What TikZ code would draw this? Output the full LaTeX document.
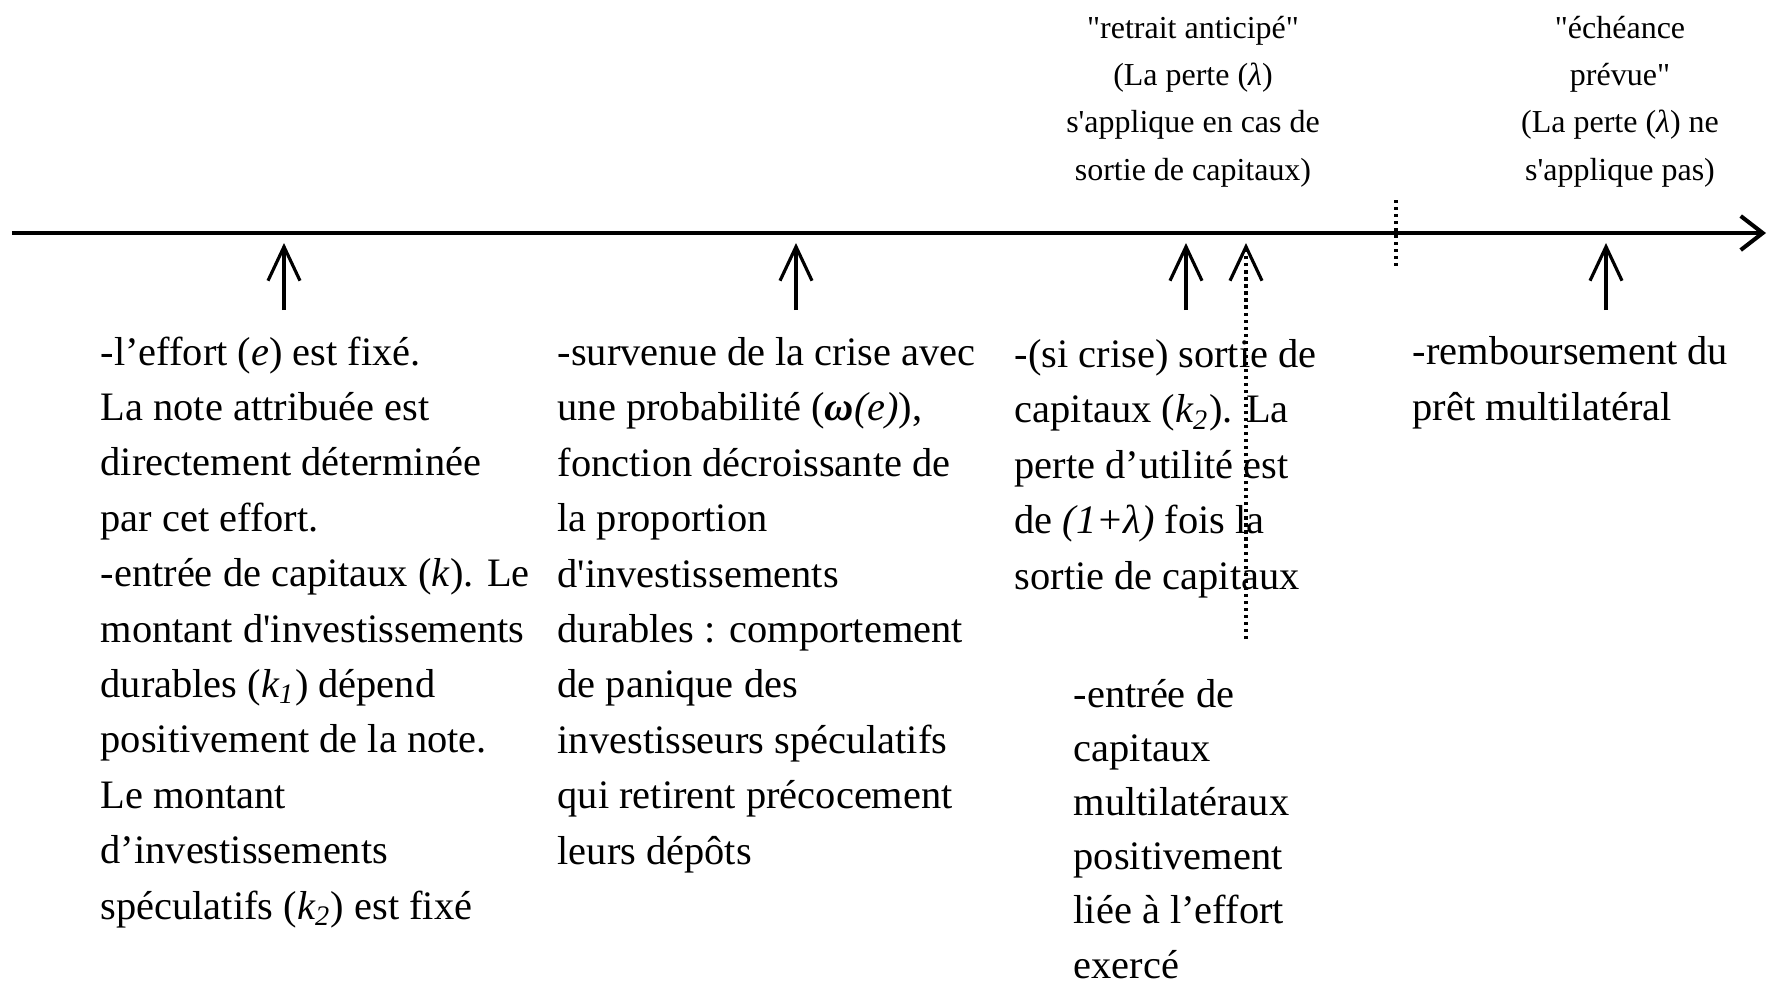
\documentclass[tikz,border=0pt]{standalone}
\usepackage{fontspec}
\setmainfont{Liberation Serif}
\usetikzlibrary{arrows.meta}

\begin{document}
\begin{tikzpicture}[
axis/.style={line width=1.15pt,-{Straight Barb[length=2.2mm,width=3.4mm]}},
up/.style={line width=0.9pt,-{Straight Barb[length=3.4mm,width=3.2mm]}},
dotline/.style={line width=0.9pt,dash pattern=on 0.9pt off 1.1pt},
event/.style={anchor=base west,align=left,inner sep=0pt,font=\fontsize{11.5}{15.76}\selectfont},
phase/.style={anchor=base,align=center,inner sep=0pt,font=\fontsize{9.1}{13.45}\selectfont}]
\useasboundingbox (0,0) rectangle (17.67,-9.86);

%%time axis
\coordinate (start) at (0.12,-2.33);
\coordinate (end) at (17.66,-2.33);
\draw[axis] (start) -- (end);

%%events on the axis
\foreach \x/\n in {2.84/1,7.96/2,11.86/3,16.06/5}
{
\coordinate (b\n) at (\x,-3.10);
\coordinate (t\n) at (\x,-2.43);
\draw[up] (b\n) -- (t\n);
}
\coordinate (b4) at (12.46,-6.39);
\coordinate (t4) at (12.46,-2.43);
\draw[up,dotline] (b4) -- (t4);
%%separation of the two phases
\coordinate (s1) at (13.96,-2.00);
\coordinate (s2) at (13.96,-2.69);
\draw[dotline] (s1) -- (s2);

%%phases (nodes sit on the baseline of their last line)
\node[phase] (retrait) at (11.93,-1.80) {\textquotedbl retrait anticipé\textquotedbl\\(La perte (\textit{λ})\\s\textquotesingle applique en cas de\\sortie de capitaux)};
\node[phase] (echeance) at (16.20,-1.80) {\textquotedbl échéance\\prévue\textquotedbl\\(La perte (\textit{λ}) ne\\s\textquotesingle applique pas)};

%%events
\node[event] (effort) at (1.00,-9.19) {-l’effort (\textit{e}) est fixé.\\La note attribuée est\\directement déterminée\\par cet effort.\\-entrée de capitaux (\textit{k}). Le\\montant d\textquotesingle investissements\\durables (\textit{k\textsubscript{1}}) dépend\\positivement de la note.\\Le montant\\d’investissements\\spéculatifs (\textit{k\textsubscript{2}}) est fixé};
\node[event] (crise) at (5.57,-8.64) {-survenue de la crise avec\\une probabilité (\textbf{\textit{ω}}\textit{(e)}),\\fonction décroissante de\\la proportion\\d\textquotesingle investissements\\durables : comportement\\de panique des\\investisseurs spéculatifs\\qui retirent précocement\\leurs dépôts};
\node[event] (sortie) at (10.14,-5.89) {-(si crise) sortie de\\capitaux (\textit{k\textsubscript{2}}). La\\perte d’utilité est\\de \textit{(1+λ)} fois la\\sortie de capitaux};
\node[event,font=\fontsize{11.5}{15.4}\selectfont] (entree) at (10.73,-9.78) {-entrée de\\capitaux\\multilatéraux\\positivement\\liée à l’effort\\exercé};
\node[event] (rembours) at (14.12,-4.20) {-remboursement du\\prêt multilatéral};
\end{tikzpicture}
\end{document}
